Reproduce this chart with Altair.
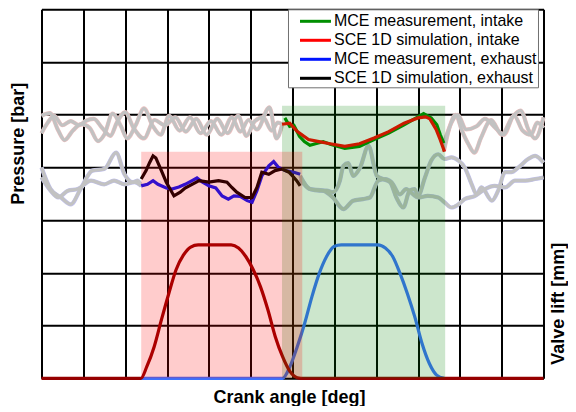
import altair as alt
import pandas as pd

FONT = "Liberation Sans"

# ---------------- data (x: crank angle in deg, y: grid units 0..7) ----------------
series_names = ["MCE measurement, intake", "SCE 1D simulation, intake",
                "MCE measurement, exhaust", "SCE 1D simulation, exhaust"]
series_colors = ["#008f00", "#ff0000", "#0014ff", "#000000"]

int_meas_x = [349, 356, 362, 370, 377, 385, 393, 404, 414, 435, 456, 477, 498, 520, 540, 548, 559, 567, 572, 577]
int_meas_y = [4.94, 4.78, 4.80, 4.59, 4.49, 4.42, 4.45, 4.49, 4.44, 4.36, 4.40, 4.53, 4.65, 4.81, 4.96, 5.02, 4.94, 4.81, 4.62, 4.46]

int_sim_x = [345, 356, 367, 383, 398, 414, 435, 456, 477, 498, 520, 540, 551, 557, 566, 572, 578]
int_sim_y = [4.82, 4.84, 4.68, 4.53, 4.49, 4.45, 4.40, 4.45, 4.56, 4.68, 4.84, 4.94, 4.96, 4.92, 4.72, 4.52, 4.30]

exh_meas_x = [143, 152, 160, 167, 179, 187, 197, 206, 216, 223, 231, 240, 250, 259, 268, 276, 285, 295, 302, 309, 316, 326, 333, 340, 350, 362, 371]
exh_meas_y = [3.65, 3.68, 3.75, 3.68, 3.61, 3.59, 3.63, 3.68, 3.75, 3.80, 3.72, 3.65, 3.61, 3.46, 3.40, 3.46, 3.45, 3.37, 3.34, 3.56, 3.84, 4.03, 4.11, 4.00, 3.94, 3.91, 3.87]

exh_sim_x = [143, 150, 155, 160, 164, 171, 179, 190, 199, 206, 216, 226, 240, 254, 266, 273, 280, 292, 302, 309, 316, 326, 335, 345, 355, 362, 366, 371]
exh_sim_y = [3.78, 3.94, 4.09, 4.22, 4.18, 3.97, 3.72, 3.46, 3.53, 3.61, 3.68, 3.75, 3.72, 3.75, 3.72, 3.62, 3.53, 3.43, 3.43, 3.62, 3.91, 3.87, 3.94, 3.97, 3.91, 3.81, 3.75, 3.65]

# grey "other cycle" traces, intake band
ghost_int_a1_x = [0, 12, 24, 33, 45, 57, 69, 81, 90, 102, 114, 123, 135, 147, 159, 171, 183, 198, 213, 228, 243, 258, 273, 285, 297, 309, 327, 337, 345]
ghost_int_a1_y = [4.98, 5.03, 4.70, 4.52, 4.70, 4.82, 4.75, 4.50, 4.62, 5.02, 4.78, 4.55, 4.80, 5.12, 4.80, 4.62, 4.98, 4.70, 4.95, 4.65, 4.88, 4.62, 4.95, 4.68, 4.90, 4.72, 5.14, 4.55, 4.80]
ghost_int_b1_x = [0, 9, 18, 30, 42, 54, 63, 75, 87, 99, 108, 120, 132, 147, 162, 177, 192, 207, 222, 237, 252, 267, 282, 294, 306, 318, 330, 339, 345]
ghost_int_b1_y = [4.65, 4.85, 4.98, 4.80, 4.88, 4.80, 4.88, 4.92, 4.75, 4.60, 4.85, 5.05, 4.75, 4.55, 4.90, 4.80, 4.95, 4.68, 4.92, 4.62, 4.92, 4.65, 4.98, 4.60, 4.88, 4.95, 4.70, 4.85, 4.82]
ghost_int_a2_x = [577, 585, 594, 603, 612, 621, 630, 645, 660, 675, 687, 699, 708, 720]
ghost_int_a2_y = [4.30, 4.75, 5.00, 4.70, 4.45, 4.28, 4.55, 4.90, 4.62, 4.95, 5.08, 4.70, 4.55, 4.95]
ghost_int_b2_x = [577, 588, 597, 609, 624, 636, 651, 663, 678, 690, 702, 711, 720]
ghost_int_b2_y = [4.45, 4.85, 5.00, 4.72, 4.78, 4.92, 4.75, 4.62, 4.98, 4.70, 4.62, 4.85, 4.75]

# grey traces, exhaust band
ghost_exh_a1_x = [0, 13, 28, 42, 56, 73, 90, 107, 119, 131, 138, 143]
ghost_exh_a1_y = [4.00, 3.59, 3.43, 3.30, 3.59, 3.94, 3.97, 4.28, 3.87, 3.72, 3.75, 3.65]
ghost_exh_b1_x = [0, 13, 24, 38, 52, 71, 90, 104, 119, 133, 143]
ghost_exh_b1_y = [3.81, 3.56, 3.43, 3.56, 3.59, 3.75, 3.68, 3.75, 3.68, 3.72, 3.65]
ghost_exh_a2_x = [371, 385, 399, 409, 418, 428, 433, 440, 447, 457, 469, 481, 490, 500, 509, 519, 528, 535, 540,
                  550, 559, 569, 578, 588, 598, 607, 617, 624, 631, 646, 655, 665, 674, 684, 698, 708, 720]
ghost_exh_a2_y = [3.84, 3.59, 3.56, 3.56, 3.53, 3.75, 4.03, 4.08, 3.84, 4.00, 4.41, 3.84, 3.78, 3.72, 3.43, 3.24, 3.56, 3.59, 3.46,
                  3.81, 4.13, 4.25, 4.16, 4.19, 4.13, 4.00, 3.68, 3.49, 3.62, 3.37, 3.56, 3.91, 3.91, 4.00, 4.16, 4.22, 4.09]
ghost_exh_b2_x = [371, 385, 404, 418, 433, 447, 461, 471, 483, 493, 502, 514, 523, 533, 540,
                  554, 569, 578, 588, 598, 607, 622, 636, 650, 665, 679, 694, 708, 720]
ghost_exh_b2_y = [3.78, 3.59, 3.56, 3.43, 3.21, 3.37, 3.40, 3.43, 3.75, 3.78, 3.72, 3.49, 3.59, 3.49, 3.43,
                  3.46, 3.43, 3.34, 3.24, 3.30, 3.40, 3.46, 3.59, 3.65, 3.62, 3.75, 3.75, 3.78, 3.81]

# valve lifts
exh_lift_x = [0, 142.6, 151, 161.6, 172, 182.6, 193, 203.7, 214, 224.7, 272, 282.6, 293, 303.7, 314, 324.7, 335.3, 345.8, 356.3, 366.8, 372, 720]
exh_lift_y = [0, 0, 0.22, 0.60, 1.11, 1.61, 2.06, 2.34, 2.49, 2.53, 2.53, 2.47, 2.31, 2.06, 1.74, 1.30, 0.79, 0.41, 0.13, 0.01, 0, 0]
int_lift_x = [142.6, 345.8, 356.3, 366.8, 377.4, 387.9, 398.4, 408.9, 419.5, 430, 482.6, 493.2, 503.7, 514.2, 524.7, 535.3, 545.8, 556.3, 566.8, 577.4]
int_lift_y = [0, 0, 0.22, 0.60, 1.04, 1.55, 1.99, 2.31, 2.50, 2.53, 2.53, 2.47, 2.31, 1.99, 1.61, 1.17, 0.66, 0.28, 0.06, 0]

# valve-open windows (shaded)
intake_window = [345, 579, 5.17]   # start, end, top
exhaust_window = [143, 374, 4.30]

# ---------------- tables ----------------
press = pd.concat([
    pd.DataFrame({"x": int_meas_x, "y": int_meas_y, "series": series_names[0]}),
    pd.DataFrame({"x": int_sim_x, "y": int_sim_y, "series": series_names[1]}),
    pd.DataFrame({"x": exh_meas_x, "y": exh_meas_y, "series": series_names[2]}),
    pd.DataFrame({"x": exh_sim_x, "y": exh_sim_y, "series": series_names[3]}),
], ignore_index=True)

ghost_int = pd.concat([
    pd.DataFrame({"x": ghost_int_a1_x, "y": ghost_int_a1_y, "g": "ia1"}),
    pd.DataFrame({"x": ghost_int_b1_x, "y": ghost_int_b1_y, "g": "ib1"}),
    pd.DataFrame({"x": ghost_int_a2_x, "y": ghost_int_a2_y, "g": "ia2"}),
    pd.DataFrame({"x": ghost_int_b2_x, "y": ghost_int_b2_y, "g": "ib2"}),
], ignore_index=True)
ghost_exh = pd.concat([
    pd.DataFrame({"x": ghost_exh_a1_x, "y": ghost_exh_a1_y, "g": "ea1"}),
    pd.DataFrame({"x": ghost_exh_b1_x, "y": ghost_exh_b1_y, "g": "eb1"}),
    pd.DataFrame({"x": ghost_exh_a2_x, "y": ghost_exh_a2_y, "g": "ea2"}),
    pd.DataFrame({"x": ghost_exh_b2_x, "y": ghost_exh_b2_y, "g": "eb2"}),
], ignore_index=True)

exh_lift = pd.DataFrame({"x": exh_lift_x, "y": exh_lift_y})
int_lift = pd.DataFrame({"x": int_lift_x, "y": int_lift_y})
win_int = pd.DataFrame({"x": [intake_window[0]], "x2": [intake_window[1]], "y": [0], "y2": [intake_window[2]]})
win_exh = pd.DataFrame({"x": [exhaust_window[0]], "x2": [exhaust_window[1]], "y": [0], "y2": [exhaust_window[2]]})

# ---------------- encodings ----------------
title_style = dict(titleFont=FONT, titleFontSize=18, titleFontWeight="bold", titleColor="black")
grid_style = dict(grid=True, gridColor="black", gridWidth=2, gridOpacity=1)

x_axis = alt.Axis(values=list(range(0, 721, 60)), labels=False, ticks=False, domain=False,
                  title="Crank angle [deg]", titleX=247.5, titleY=19, titleBaseline="middle",
                  titleAlign="center", **grid_style, **title_style)
x_scale = alt.Scale(domain=[0, 720], nice=False, zero=False)
X = alt.X("x:Q", scale=x_scale, axis=x_axis)

y_scale = alt.Scale(domain=[0, 7], nice=False, zero=False)
y_left = alt.Axis(values=list(range(0, 8)), labels=False, ticks=False, domain=False,
                  title="Pressure [bar]", titleAngle=270, titleX=-23.5, titleY=134,
                  titleBaseline="middle", titleAlign="center", **grid_style, **title_style)
y_right = alt.Axis(orient="right", labels=False, ticks=False, domain=False, grid=False,
                   title="Valve lift  [mm]", titleAngle=270, titleX=15, titleY=294,
                   titleBaseline="middle", titleAlign="center", **title_style)

Y_p = alt.Y("y:Q", scale=y_scale, axis=y_left)
Y_v = alt.Y("y:Q", scale=y_scale, axis=y_right)

ghost_edge_int = alt.Chart(ghost_int).mark_line(interpolate="monotone", strokeWidth=4.2, color="#eec0c0").encode(
    x=X, y=Y_p, detail="g:N")
ghost_edge_exh = alt.Chart(ghost_exh).mark_line(interpolate="monotone", strokeWidth=4.2, color="#c0c0ee").encode(
    x=X, y=Y_p, detail="g:N")
ghost_core_int = alt.Chart(ghost_int).mark_line(interpolate="monotone", strokeWidth=3.2, color="#c2c2c2").encode(
    x=X, y=Y_p, detail="g:N")
ghost_core_exh = alt.Chart(ghost_exh).mark_line(interpolate="monotone", strokeWidth=3.2, color="#c2c2c2").encode(
    x=X, y=Y_p, detail="g:N")

legend = alt.Legend(orient="none", legendX=246.5, legendY=0, title=None,
                    symbolType="M0,0H3.26", symbolSize=361, symbolStrokeWidth=3,
                    labelFont=FONT, labelFontSize=16, labelColor="black", labelLimit=400,
                    labelOffset=23, padding=1, rowPadding=0,
                    strokeColor="#707070", fillColor="white")

press_lines = alt.Chart(press).mark_line(strokeWidth=3.2).encode(
    x=X, y=Y_p,
    color=alt.Color("series:N", scale=alt.Scale(domain=series_names, range=series_colors),
                    sort=series_names, legend=legend),
)

pressure_group = alt.layer(ghost_edge_int, ghost_edge_exh, ghost_core_int, ghost_core_exh, press_lines)

lift_int = alt.Chart(int_lift).mark_line(interpolate="monotone", strokeWidth=3.2, color="#3c72ff").encode(x=X, y=Y_v)
lift_exh = alt.Chart(exh_lift).mark_line(interpolate="monotone", strokeWidth=3.2, color="#960000").encode(x=X, y=Y_v)
valve_group = alt.layer(lift_int, lift_exh)

Y_r = alt.Y("y:Q", scale=y_scale, axis=None)
rect_int = alt.Chart(win_int).mark_rect(color="#008000", opacity=0.2).encode(
    x=X, x2="x2:Q", y=Y_r, y2="y2:Q")
rect_exh = alt.Chart(win_exh).mark_rect(color="#ff0000", opacity=0.2).encode(
    x=X, x2="x2:Q", y=Y_r, y2="y2:Q")
rect_group = alt.layer(rect_int, rect_exh)

chart = alt.layer(pressure_group, valve_group, rect_group).resolve_scale(
    y="independent"
).properties(
    width=502, height=369,
    padding={"left": 33.5, "top": 1.3, "right": 24, "bottom": 28},
    autosize="none",
).configure_view(stroke="black", strokeWidth=1.5).configure(background="white")

chart.save("out.html", embed_options={"renderer": "svg", "actions": False})
